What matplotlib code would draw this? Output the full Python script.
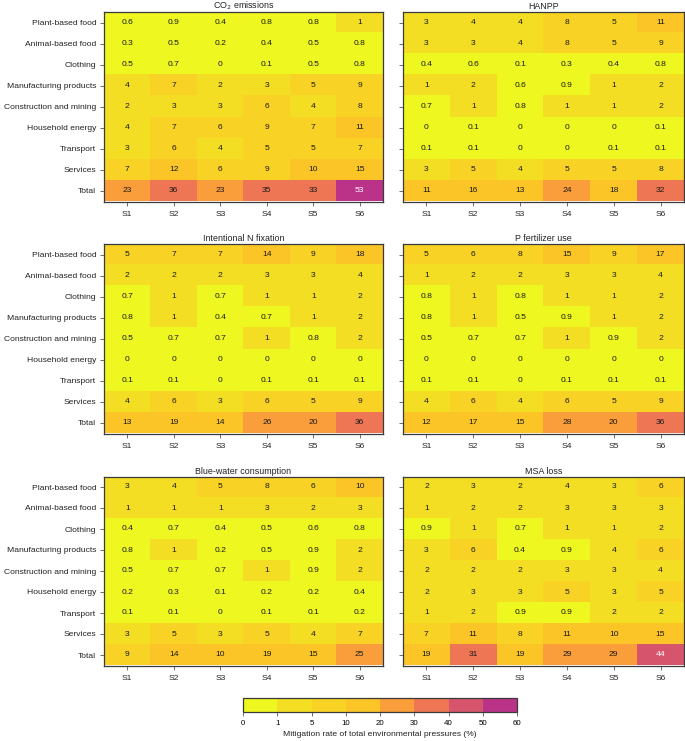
import numpy as np
import matplotlib
matplotlib.use("Agg")
import matplotlib.pyplot as plt
from matplotlib.colors import ListedColormap, BoundaryNorm

plt.rcParams['font.family'] = ['Liberation Sans', 'DejaVu Sans']

categories = ["Plant-based food", "Animal-based food", "Clothing", "Manufacturing products",
              "Construction and mining", "Household energy", "Transport", "Services", "Total"]
scenarios = ["S1", "S2", "S3", "S4", "S5", "S6"]

co2 = [[0.6, 0.9, 0.4, 0.8, 0.8, 1],
       [0.3, 0.5, 0.2, 0.4, 0.5, 0.8],
       [0.5, 0.7, 0, 0.1, 0.5, 0.8],
       [4, 7, 2, 3, 5, 9],
       [2, 3, 3, 6, 4, 8],
       [4, 7, 6, 9, 7, 11],
       [3, 6, 4, 5, 5, 7],
       [7, 12, 6, 9, 10, 15],
       [23, 36, 23, 35, 33, 53]]

hanpp = [[3, 4, 4, 8, 5, 11],
         [3, 3, 4, 8, 5, 9],
         [0.4, 0.6, 0.1, 0.3, 0.4, 0.8],
         [1, 2, 0.6, 0.9, 1, 2],
         [0.7, 1, 0.8, 1, 1, 2],
         [0, 0.1, 0, 0, 0, 0.1],
         [0.1, 0.1, 0, 0, 0.1, 0.1],
         [3, 5, 4, 5, 5, 8],
         [11, 16, 13, 24, 18, 32]]

nfix = [[5, 7, 7, 14, 9, 18],
        [2, 2, 2, 3, 3, 4],
        [0.7, 1, 0.7, 1, 1, 2],
        [0.8, 1, 0.4, 0.7, 1, 2],
        [0.5, 0.7, 0.7, 1, 0.8, 2],
        [0, 0, 0, 0, 0, 0],
        [0.1, 0.1, 0, 0.1, 0.1, 0.1],
        [4, 6, 3, 6, 5, 9],
        [13, 19, 14, 26, 20, 36]]

pfert = [[5, 6, 8, 15, 9, 17],
         [1, 2, 2, 3, 3, 4],
         [0.8, 1, 0.8, 1, 1, 2],
         [0.8, 1, 0.5, 0.9, 1, 2],
         [0.5, 0.7, 0.7, 1, 0.9, 2],
         [0, 0, 0, 0, 0, 0],
         [0.1, 0.1, 0, 0.1, 0.1, 0.1],
         [4, 6, 4, 6, 5, 9],
         [12, 17, 15, 28, 20, 36]]

bluewater = [[3, 4, 5, 8, 6, 10],
             [1, 1, 1, 3, 2, 3],
             [0.4, 0.7, 0.4, 0.5, 0.6, 0.8],
             [0.8, 1, 0.2, 0.5, 0.9, 2],
             [0.5, 0.7, 0.7, 1, 0.9, 2],
             [0.2, 0.3, 0.1, 0.2, 0.2, 0.4],
             [0.1, 0.1, 0, 0.1, 0.1, 0.2],
             [3, 5, 3, 5, 4, 7],
             [9, 14, 10, 19, 15, 25]]

msa = [[2, 3, 2, 4, 3, 6],
       [1, 2, 2, 3, 3, 3],
       [0.9, 1, 0.7, 1, 1, 2],
       [3, 6, 0.4, 0.9, 4, 6],
       [2, 2, 2, 3, 3, 4],
       [2, 3, 3, 5, 3, 5],
       [1, 2, 0.9, 0.9, 2, 2],
       [7, 11, 8, 11, 10, 15],
       [19, 31, 19, 29, 29, 44]]

titles = ["CO$_2$ emissions", "HANPP", "Intentional N fixation", "P fertilizer use",
          "Blue-water consumption", "MSA loss"]
panels = [co2, hanpp, nfix, pfert, bluewater, msa]

bounds = [0, 1, 5, 10, 20, 30, 40, 50, 60]
bin_colors = ["#EEF71F", "#F3DE23", "#F8D325", "#FCC527", "#FA9D3B",
              "#EE7654", "#D6556C", "#BA3389"]
cmap = ListedColormap(bin_colors)
norm = BoundaryNorm(bounds, cmap.N)

W, H = 685, 741
fig = plt.figure(figsize=(W / 100, H / 100), dpi=100)

col_x = [(104, 383), (403, 684)]
row_y = [(12, 201.5), (244, 433.5), (476.5, 665.5)]

fs = 6.1
spine_c = "#3a3a3a"
for i, (data, title) in enumerate(zip(panels, titles)):
    r, c = divmod(i, 2)
    x0, x1 = col_x[c]
    y0, y1 = row_y[r]
    ax = fig.add_axes([x0 / W, 1 - y1 / H, (x1 - x0) / W, (y1 - y0) / H])
    arr = np.array(data, dtype=float)
    ax.imshow(arr, cmap=cmap, norm=norm, aspect='auto', interpolation='nearest')
    for ri in range(arr.shape[0]):
        for ci in range(arr.shape[1]):
            v = arr[ri, ci]
            txt = f"{v:g}"
            color = "white" if v >= 40 else "#1a1a1a"
            ax.text(ci, ri, txt, ha='center', va='center', fontsize=fs, color=color)
    ax.set_xticks(range(len(scenarios)))
    ax.set_xticklabels(scenarios, fontsize=fs, color="#222222")
    ax.set_yticks(range(len(categories)))
    if c == 0:
        ax.set_yticklabels(categories, fontsize=fs, color="#222222")
    else:
        ax.set_yticklabels([])
    ax.tick_params(length=3, width=0.6, color="#555555", pad=2.5)
    ax.tick_params(axis='x', pad=3.5)
    for s in ax.spines.values():
        s.set_color(spine_c)
        s.set_linewidth(0.9)
    ax.set_title(title, fontsize=fs + 0.3, color="#222222", pad=2)

cax = fig.add_axes([243 / W, 1 - 712 / H, 274 / W, 14 / H])
sm = matplotlib.cm.ScalarMappable(cmap=cmap, norm=norm)
cb = fig.colorbar(sm, cax=cax, orientation='horizontal', spacing='uniform', ticks=bounds)
cb.ax.tick_params(labelsize=fs - 0.4, length=3, width=0.6, color="#555555", pad=2.5)
cb.outline.set_edgecolor(spine_c)
cb.outline.set_linewidth(0.9)
cb.set_label("Mitigation rate of total environmental pressures (%)", fontsize=fs,
             color="#222222", labelpad=3)

fig.savefig("out.png", dpi=100)
